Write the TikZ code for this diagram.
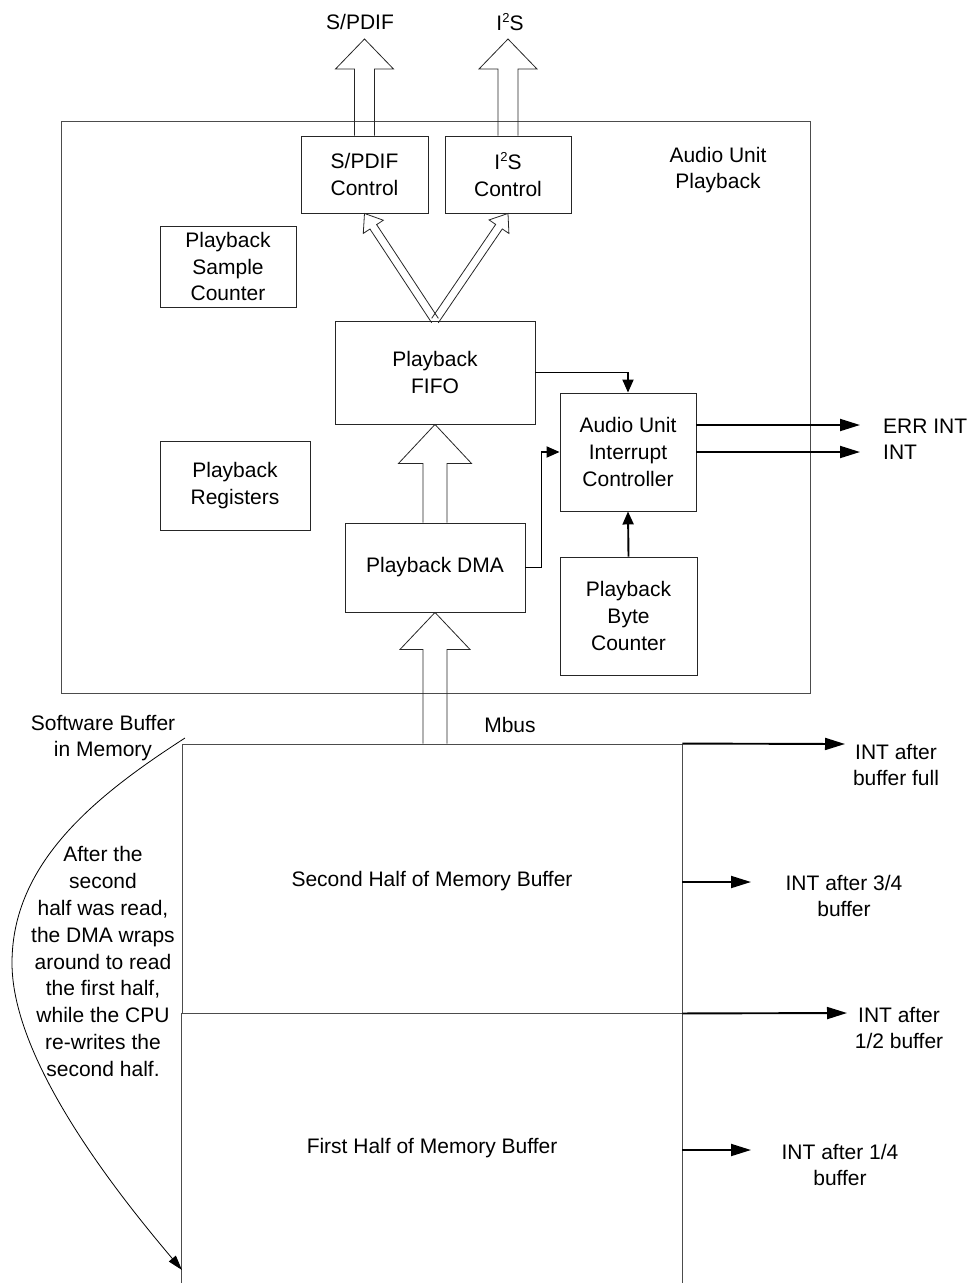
\documentclass[tikz,border=0pt]{standalone}
\usepackage{fontspec}
\setmainfont{Liberation Sans}
\usetikzlibrary{calc,arrows.meta}

% small raised digit for I2S
\newcommand{\supdigit}[1]{\raisebox{0.72ex}{\fontsize{13}{13}\selectfont #1}}

% outlined block arrow: start, tip, shaft half width, head half width, head length
\newcommand{\hollowarrow}[5]{%
  \coordinate (ha-s) at (#1);
  \coordinate (ha-e) at (#2);
  \coordinate (ha-b) at ($(ha-e)!#5!(ha-s)$);
  \draw[blockline] ($(ha-s)!#3!90:(ha-e)$) -- ($(ha-b)!#3!90:(ha-e)$)
    -- ($(ha-b)!#4!90:(ha-e)$) -- (ha-e) -- ($(ha-b)!#4!-90:(ha-e)$)
    -- ($(ha-b)!#3!-90:(ha-e)$) -- ($(ha-s)!#3!-90:(ha-e)$);
}

\begin{document}
\begin{tikzpicture}[x=1pt,y=-1pt,
  font=\fontsize{21}{26.8}\selectfont,
  box/.style={draw=black!85, line width=0.9pt, inner sep=0pt, align=center},
  frame/.style={draw=black!70, line width=0.9pt},
  lbl/.style={inner sep=0pt, align=center},
  blockline/.style={draw=black!85, line width=0.8pt, line join=miter},
  sig/.style={line width=1.9pt, -{Triangle[length=20pt,width=12pt]}},
  insig/.style={line width=1.9pt, -{Triangle[length=13pt,width=11pt]}},
  note/.style={line width=0.8pt, -{Triangle[length=15pt,width=9pt]}}
]
\useasboundingbox (0,0) rectangle (970,1283);

% Audio unit enclosure
\node[frame, inner sep=0pt, minimum width=749pt, minimum height=572pt] (unit) at (435.5,407) {};
\node[lbl] (unitlbl) at (718,170) {Audio Unit\\Playback};

% functional blocks
\node[box, minimum width=127pt, minimum height=77pt] (spdifctl) at (364.5,174.5) {S/PDIF\\Control};
\node[box, minimum width=126pt, minimum height=77pt] (i2sctl) at (508,174.5) {I\supdigit{2}S\\Control};
\node[box, minimum width=136pt, minimum height=81pt] (samplectr) at (228,266.5) {Playback\\Sample\\Counter};
\node[box, minimum width=200pt, minimum height=103pt] (fifo) at (435,372.5) {Playback\\FIFO};
\node[box, minimum width=150pt, minimum height=89pt] (regs) at (235,485.5) {Playback\\Registers};
\node[box, minimum width=180pt, minimum height=89pt] (dma) at (435,567.5) {Playback DMA};
\node[box, minimum width=136pt, minimum height=118pt] (intctl) at (628,452) {Audio Unit\\Interrupt\\Controller};
\node[box, minimum width=137pt, minimum height=118pt] (bytectr) at (628.5,616) {Playback\\Byte\\Counter};

% memory buffer
\node[frame, inner sep=0pt, minimum width=500pt, minimum height=269pt] (secondhalf) at (432,878.5) {};
\node[lbl] (secondlbl) at (432,881) {Second Half of Memory Buffer};
\node[inner sep=0pt, minimum width=500pt, minimum height=270pt] (firsthalf) at (432,1148) {};
\node[lbl] (firstlbl) at (432,1148) {First Half of Memory Buffer};
\draw[frame] (firsthalf.north west) -- (firsthalf.south west);
\draw[frame] (firsthalf.north east) -- (firsthalf.south east);

% output labels
\node[lbl] (spdiflbl) at (360,22) {S/PDIF};
\node[lbl] (i2slbl) at (510,22) {I\supdigit{2}S};
\coordinate (spdiftip) at (364.5,39);
\coordinate (i2stip) at (508,39);

% block-arrow data paths
\hollowarrow{spdifctl.north}{spdiftip}{10pt}{29pt}{30pt}
\hollowarrow{i2sctl.north}{i2stip}{10pt}{29pt}{30pt}
\hollowarrow{fifo.north}{spdifctl.south}{4pt}{12pt}{16pt}
\hollowarrow{fifo.north}{i2sctl.south}{4pt}{12pt}{16pt}
\hollowarrow{dma.north}{fifo.south}{12pt}{36.5pt}{39pt}
\coordinate (mbus) at (dma.south |- secondhalf.north);
\hollowarrow{mbus}{dma.south}{12pt}{35pt}{37pt}
\node[lbl] (mbuslbl) at (510,725) {Mbus};

% interrupt signals
\draw[insig] (fifo.east) -| (intctl.north);
\draw[insig] (dma.east) -- ++(16,0) |- (intctl.west);
\draw[insig] (bytectr.north) -- (intctl.south);

\coordinate (errtip) at (860,425);
\coordinate (inttip) at (860,452);
\draw[sig] ($(intctl.east)+(0,-27)$) -- (errtip);
\draw[sig] (intctl.east) -- (inttip);
\node[lbl, anchor=west] (errlbl) at (883,426) {ERR INT};
\node[lbl, anchor=west] (intlbl) at (883,452) {INT};

% buffer interrupts
\coordinate (fulltip) at (845,744);
\coordinate (q3tip) at (751,882);
\coordinate (halftip) at (847,1013);
\coordinate (q1tip) at (751,1150);
\draw[sig] (secondhalf.north east) -- (fulltip);
\draw[sig] (secondhalf.east |- q3tip) -- (q3tip);
\draw[sig] (secondhalf.south east) -- (halftip);
\draw[sig] (firsthalf.east |- q1tip) -- (q1tip);
\node[lbl] (fulllbl) at (896,765) {INT after\\buffer full};
\node[lbl] (q3lbl) at (844,896) {INT after 3/4\\buffer};
\node[lbl] (halflbl) at (899,1028) {INT after\\1/2 buffer};
\node[lbl] (q1lbl) at (840,1165) {INT after 1/4\\buffer};

% software buffer notes and wrap-around
\node[lbl] (swbuf) at (103,738) {Software Buffer\\in Memory};
\node[lbl] (wraptxt) at (103,961.5) {After the\\second\\half was read,\\the DMA wraps\\around to read\\the first half,\\while the CPU\\re-writes the\\second half.};
\coordinate (wrapstart) at (185,738);
\coordinate (wrapend) at (182,1270);
\draw[note] (wrapstart) .. controls (95,796) and (12,863) .. (12,963)
  .. controls (12,1063) and (122,1199) .. (wrapend);
\end{tikzpicture}
\end{document}
